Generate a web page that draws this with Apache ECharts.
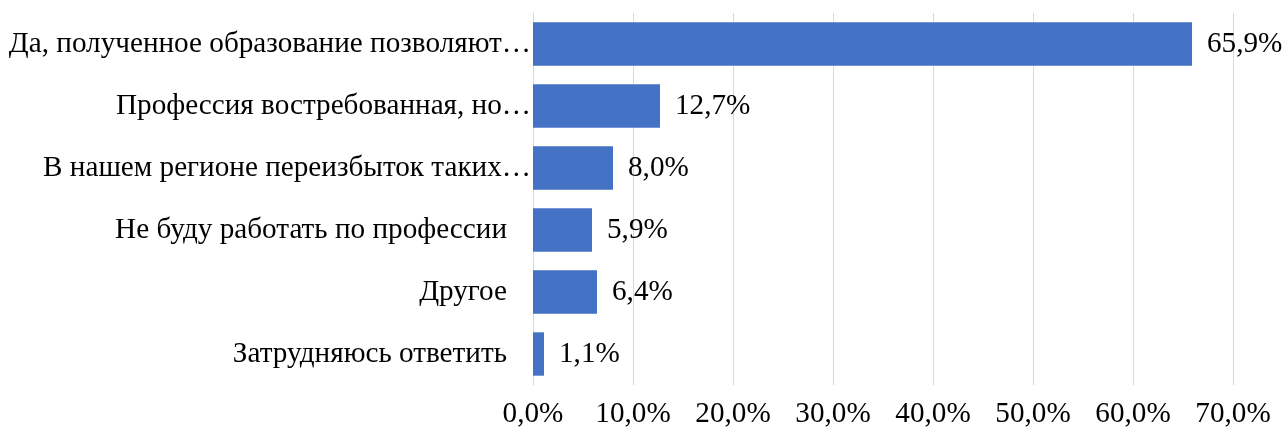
<!DOCTYPE html>
<html lang="ru" style="height: 100%">
<head>
  <meta charset="utf-8">
</head>
<body style="height: 100%; margin: 0; background: #fff">
  <div id="container" style="width: 1282px; height: 433px"></div>

  <script type="text/javascript" src="https://fastly.jsdelivr.net/npm/echarts@6/dist/echarts.min.js"></script>

  <script type="text/javascript">
    // categories top to bottom as in the picture
    var categories = [
      'Да, полученное образование позволяют…',
      'Профессия востребованная, но…',
      'В нашем регионе переизбыток таких…',
      'Не буду работать по профессии',
      'Другое',
      'Затрудняюсь ответить'
    ];
    var values = [65.9, 12.7, 8.0, 5.9, 6.4, 1.1];
    var xTicks = [0, 10, 20, 30, 40, 50, 60, 70];

    var fontFamily = '"Liberation Serif", "Times New Roman", serif';
    var fs = 29.2;
    function pct(v) {
      return v.toFixed(1).replace('.', ',') + '%';
    }

    var dom = document.getElementById('container');
    var myChart = echarts.init(dom, null, { renderer: 'canvas' });

    var option = {
      backgroundColor: '#ffffff',
      animation: false,
      grid: {
        left: 533,
        right: 49,
        top: 13,
        bottom: 48,
        containLabel: false
      },
      xAxis: {
        type: 'value',
        min: xTicks[0],
        max: xTicks[xTicks.length - 1],
        interval: 10,
        axisLine: { show: false },
        axisTick: { show: false },
        splitLine: { lineStyle: { color: '#d9d9d9', width: 1 } },
        axisLabel: {
          color: '#000',
          fontFamily: fontFamily,
          fontSize: fs,
          margin: 15,
          formatter: function (v) { return pct(v); }
        }
      },
      yAxis: {
        type: 'category',
        inverse: true,
        data: categories,
        axisLine: { show: true, lineStyle: { color: '#d9d9d9' } },
        axisTick: { show: false },
        axisLabel: {
          color: '#000',
          fontFamily: fontFamily,
          fontSize: fs,
          margin: 2,
          // full labels sit a bit off the axis, cut ones run up to it
          formatter: function (v) {
            return v.slice(-1) === '…' ? '{c|' + v + '}' : '{f|' + v + '}';
          },
          rich: {
            c: { color: '#000', fontFamily: fontFamily, fontSize: fs },
            f: { color: '#000', fontFamily: fontFamily, fontSize: fs, padding: [0, 24, 0, 0] }
          }
        }
      },
      series: [
        {
          type: 'bar',
          data: values,
          barCategoryGap: '30%',
          itemStyle: { color: '#4472C4' },
          label: {
            show: true,
            position: 'right',
            distance: 15,
            color: '#000',
            fontFamily: fontFamily,
            fontSize: fs,
            formatter: function (p) { return pct(p.value); }
          }
        }
      ]
    };

    myChart.setOption(option);
    window.addEventListener('resize', myChart.resize);
  </script>
</body>
</html>
